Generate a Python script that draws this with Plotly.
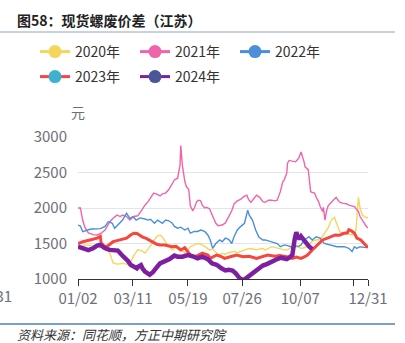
import plotly.graph_objects as go

# ---- data: spot rebar minus scrap spread, Jiangsu (yuan/t), by calendar day ----
dates_2020 = ["01/02","01/05","01/11","01/17","01/21","01/26","01/30","02/05","02/11","02/15","02/20","02/24","02/27","03/03","03/07","03/12","03/17","03/22","03/26","03/30","04/02","04/06","04/10","04/14","04/17","04/21","04/25","04/29","05/02","05/06","05/10","05/15","05/20","05/22","05/27","06/01","06/04","06/09","06/15","06/19","06/23","06/26","07/01","07/05","07/09","07/13","07/16","07/20","07/24","07/28","08/01","08/06","08/09","08/13","08/17","08/21","08/24","08/28","09/01","09/05","09/08","09/12","09/17","09/21","09/23","09/27","10/01","10/05","10/08","10/12","10/17","10/22","10/27","11/01","11/05","11/07","11/11","11/15","11/19","11/21","11/24","11/26","11/30","12/04","12/07","12/11","12/14","12/16","12/19","12/21","12/24","12/26","12/29","12/31"]
vals_2020 = [1460,1455,1480,1480,1470,1460,1455,1420,1365,1225,1210,1215,1220,1210,1215,1330,1410,1400,1365,1420,1470,1550,1600,1620,1590,1520,1460,1410,1430,1455,1420,1365,1420,1455,1480,1500,1490,1460,1410,1420,1380,1340,1360,1350,1370,1385,1390,1370,1390,1405,1420,1430,1420,1410,1425,1430,1408,1430,1455,1445,1435,1425,1410,1410,1420,1450,1455,1450,1432,1440,1470,1530,1550,1560,1620,1660,1720,1830,1870,1800,1700,1660,1650,1640,1640,1620,1640,1700,2150,2000,1900,1880,1860,1870]

dates_2021 = ["01/02","01/05","01/08","01/11","01/15","01/21","01/26","01/31","02/05","02/11","02/15","02/20","02/24","02/27","03/03","03/07","03/12","03/17","03/22","03/26","03/30","04/02","04/06","04/10","04/14","04/17","04/21","04/25","04/29","05/02","05/06","05/09","05/10","05/12","05/15","05/17","05/20","05/22","05/25","05/27","05/30","06/01","06/04","06/06","06/09","06/11","06/15","06/19","06/23","06/26","07/01","07/05","07/09","07/13","07/16","07/20","07/24","07/28","08/01","08/03","08/06","08/09","08/13","08/17","08/21","08/24","08/28","09/01","09/05","09/08","09/12","09/15","09/17","09/20","09/21","09/23","09/27","10/01","10/05","10/08","10/12","10/13","10/17","10/20","10/22","10/25","10/27","10/30","11/01","11/04","11/05","11/07","11/09","11/11","11/15","11/19","11/21","11/24","11/26","11/30","12/04","12/07","12/11","12/14","12/16","12/19","12/21","12/24","12/26","12/29","12/31"]
vals_2021 = [2000,2000,1820,1720,1650,1625,1620,1645,1690,1807,1855,1900,1880,1900,1880,1830,1880,1890,1970,2040,2090,2150,2210,2195,2170,2200,2210,2260,2350,2395,2420,2600,2880,2600,2380,2300,2260,2030,1960,2000,2090,2110,2100,2040,2000,2010,1990,1880,1785,1750,1760,1790,1880,1960,2060,2100,2120,2160,2180,2120,2080,2130,2180,2150,2090,2080,2110,2110,2100,2110,2230,2370,2400,2490,2630,2670,2660,2650,2700,2790,2640,2580,2540,2230,2220,2210,2150,2090,2020,1950,2010,1830,1960,2030,2080,2135,2150,2100,2080,2065,2060,2040,2030,2020,1990,1950,1880,1820,1785,1740,1720]

dates_2022 = ["01/02","01/05","01/08","01/11","01/17","01/21","01/26","01/30","02/05","02/09","02/11","02/14","02/17","02/21","02/24","02/27","03/02","03/03","03/07","03/11","03/15","03/20","03/26","03/30","04/02","04/07","04/11","04/15","04/17","04/21","04/25","04/29","05/02","05/06","05/10","05/15","05/19","05/22","05/27","05/31","06/04","06/09","06/13","06/16","06/19","06/23","06/28","07/01","07/05","07/09","07/13","07/16","07/20","07/24","07/29","08/02","08/04","08/08","08/12","08/16","08/21","08/24","08/29","09/02","09/08","09/12","09/17","09/21","09/25","09/30","10/05","10/08","10/12","10/18","10/22","10/27","11/01","11/06","11/10","11/15","11/22","12/01","12/07","12/11","12/14","12/17","12/21","12/26","12/31"]
vals_2022 = [1760,1746,1666,1680,1700,1705,1708,1710,1740,1807,1800,1785,1715,1760,1785,1830,1910,1925,1855,1880,1830,1860,1845,1830,1840,1785,1830,1800,1785,1830,1820,1790,1740,1715,1730,1690,1715,1645,1670,1670,1690,1670,1620,1550,1432,1500,1550,1525,1575,1560,1500,1600,1690,1738,1785,1970,1900,1830,1690,1590,1550,1550,1530,1525,1500,1455,1480,1470,1455,1470,1460,1480,1550,1595,1550,1595,1575,1500,1490,1480,1455,1455,1432,1385,1455,1432,1455,1445,1445]

dates_2023 = ["01/02","01/08","01/17","01/26","01/30","01/31","02/04","02/07","02/11","02/15","02/20","02/24","02/29","03/03","03/08","03/12","03/16","03/20","03/23","03/27","04/01","04/05","04/10","04/14","04/20","04/25","04/29","05/04","05/07","05/10","05/15","05/19","05/22","05/27","05/31","06/06","06/13","06/16","06/20","06/24","06/29","07/04","07/10","07/19","07/27","08/04","08/13","08/19","08/27","09/05","09/11","09/20","09/27","10/02","10/08","10/12","10/16","10/22","10/28","11/04","11/10","11/16","11/20","11/25","11/30","12/05","12/07","12/10","12/14","12/17","12/22","12/26","12/31"]
vals_2023 = [1500,1525,1550,1575,1600,1510,1460,1455,1490,1525,1540,1550,1570,1575,1620,1645,1640,1610,1590,1575,1550,1520,1490,1480,1480,1465,1455,1460,1440,1408,1440,1385,1338,1315,1330,1365,1338,1290,1310,1338,1320,1290,1310,1338,1315,1320,1290,1315,1338,1320,1330,1315,1290,1310,1290,1310,1338,1408,1478,1550,1575,1600,1620,1615,1640,1650,1695,1680,1645,1575,1550,1500,1440]

dates_2024 = ["01/02","01/08","01/15","01/21","01/26","01/30","02/02","02/05","02/11","02/17","02/21","02/26","03/01","03/05","03/08","03/12","03/16","03/18","03/21","03/23","03/26","03/30","04/01","04/05","04/07","04/11","04/14","04/20","04/26","05/02","05/06","05/12","05/19","05/25","05/31","06/06","06/13","06/18","06/24","06/30","07/05","07/09","07/14","07/18","07/23","07/28","08/02","08/08","08/14","08/21","08/26","09/01","09/07","09/13","09/20","09/23","09/27","09/30","10/02","10/03","10/06","10/08","10/11","10/15","10/18","10/22"]
vals_2024 = [1455,1432,1408,1432,1470,1480,1450,1432,1410,1408,1400,1338,1300,1250,1200,1165,1150,1175,1195,1150,1105,1075,1060,1095,1130,1180,1220,1245,1280,1330,1315,1315,1338,1320,1290,1315,1280,1220,1200,1150,1120,1130,1120,1080,1010,985,1030,1080,1130,1190,1210,1250,1275,1300,1280,1300,1338,1560,1660,1620,1560,1600,1550,1500,1460,1420]

tick_labels = ["01/02", "03/11", "05/19", "07/26", "10/07", "12/13", "12/31"]
tick_text = ["01/02", "03/11", "05/19", "07/26", "10/07", "", "12/31"]

series = [
    ("2020年", dates_2020, vals_2020, "#f6d55c", "#f6d55c", 1.4),
    ("2021年", dates_2021, vals_2021, "#f064aa", "#f064aa", 1.4),
    ("2022年", dates_2022, vals_2022, "#4a8fdb", "#4a8fdb", 1.4),
    ("2023年", dates_2023, vals_2023, "#f5473e", "#3bb2cf", 3.0),
    ("2024年", dates_2024, vals_2024, "#7d1fa0", "#4b5597", 4.5),
]


def to_date(md):
    return "2024-" + md.replace("/", "-")


FONT = "Noto Sans CJK SC, Noto Sans, sans-serif"
fig = go.Figure()

for name, d, v, lc, mc, w in series:
    fig.add_trace(go.Scatter(
        x=[to_date(s) for s in d], y=v, mode="lines",
        line=dict(color=lc, width=w, shape="linear"),
        showlegend=False, hoverinfo="skip", name=name,
    ))

# legend entries: line with round marker, split over two rows
for i, (name, d, v, lc, mc, w) in enumerate(series):
    fig.add_trace(go.Scatter(
        x=[None], y=[None], mode="lines+markers", name=name,
        line=dict(color=lc, width=3), marker=dict(color=mc, size=13),
        legend="legend" if i < 3 else "legend2",
    ))

# plot-area geometry (px)
L, R, T, B = 78, 368, 137, 279
W, H = R - L, B - T


def px(x):
    return (x - L) / W


def py(y):
    return (B - y) / H


legend_common = dict(
    orientation="h", xanchor="left", yanchor="middle",
    font=dict(family=FONT, size=14, color="#333333"),
    entrywidth=55, entrywidthmode="pixels", bgcolor="rgba(0,0,0,0)",
    itemclick=False, itemdoubleclick=False, tracegroupgap=0,
)

fig.update_layout(
    width=405, height=343,
    margin=dict(l=L, r=405 - R, t=T, b=343 - B, pad=0),
    paper_bgcolor="white", plot_bgcolor="white",
    font=dict(family=FONT, color="#6e7079"),
    legend=dict(x=px(35), y=py(52), **legend_common),
    legend2=dict(x=px(35), y=py(77), **legend_common),
    xaxis=dict(
        type="date", range=[to_date("01/02"), to_date("12/31")],
        tickvals=[to_date(s) for s in tick_labels], ticktext=tick_text,
        showgrid=False, showline=True, linecolor="#333333", linewidth=1,
        ticks="outside", ticklen=6, tickcolor="#333333",
        tickfont=dict(family=FONT, size=15, color="#6e7079"),
        zeroline=False, fixedrange=True,
    ),
    yaxis=dict(
        range=[1000, 3000], tickvals=[1000, 1500, 2000, 2500, 3000],
        showgrid=True, gridcolor="#e0e6f1", gridwidth=1,
        showline=False, ticks="", zeroline=False,
        tickfont=dict(family=FONT, size=15, color="#6e7079"),
        ticklabelstandoff=10, fixedrange=True,
    ),
    showlegend=True,
)

fig.add_annotation(text="<b>图58：现货螺废价差（江苏）</b>", xref="paper", yref="paper",
                   x=px(15), y=py(20), xanchor="left", yanchor="middle",
                   showarrow=False, font=dict(family=FONT, size=14, color="#222222"))
fig.add_annotation(text="元", xref="paper", yref="paper",
                   x=px(78), y=py(112), xanchor="center", yanchor="middle",
                   showarrow=False, font=dict(family=FONT, size=14, color="#6e7079"))
fig.add_annotation(text="12/31", xref="paper", yref="paper",
                   x=px(14), y=py(295), xanchor="right", yanchor="middle",
                   showarrow=False, font=dict(family=FONT, size=15, color="#6e7079"))
fig.add_annotation(text="<i>资料来源：同花顺，方正中期研究院</i>", xref="paper", yref="paper",
                   x=px(15), y=py(334), xanchor="left", yanchor="middle",
                   showarrow=False, font=dict(family=FONT, size=13, color="#333333"))

fig.add_shape(type="line", xref="paper", yref="paper", x0=px(0), x1=px(395),
              y0=py(32), y1=py(32), line=dict(color="#8ea6c4", width=1))
fig.add_shape(type="line", xref="paper", yref="paper", x0=px(0), x1=px(395),
              y0=py(324), y1=py(324), line=dict(color="#4f7fb5", width=1.5))

fig.write_html("out.html")
